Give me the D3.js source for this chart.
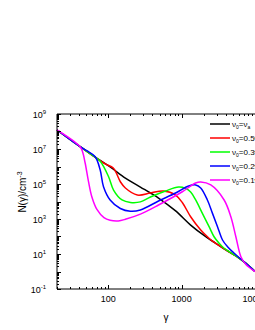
<!DOCTYPE html>
<html>
<head>
<meta charset="utf-8">
<script src="https://cdn.jsdelivr.net/npm/d3@7"></script>
<style>
  html, body { margin: 0; padding: 0; background: #fff; }
  svg { display: block; font-family: "Liberation Sans", Arial, sans-serif; }
</style>
</head>
<body>
<svg id="chart" width="255" height="330"></svg>
<script>
"use strict";

// === Data: [gamma, N(gamma)] ===
const curveVa = [[20,1.22e8],[41.3,1.35e7],[60.3,4.5e6],[106,9.4e5],[171,2.2e5],[274,6.7e4],
  [376,3.06e4],[484,1.58e4],[828,2.9e3],[1327,450],[2130,97],[2918,41],[4000,17],
  [5484,7.7],[7522,2.9],[10000,1.0]];
const curve05 = [[20,1.22e8],[41.3,1.35e7],[60.3,4.5e6],[90.9,1.4e6],[117,8.2e5],[146,1.35e5],
  [171,5.9e4],[249,2.35e4],[376,3.06e4],[566,4.0e4],[828,2.35e4],[1031,8.2e3],[1327,1.35e3],
  [1820,235],[2343,82],[2660,52],[2918,41],[4000,17],[5484,7.7],[7522,2.9],[10000,1.0]];
const curve03 = [[20,1.22e8],[41.3,1.35e7],[60.3,4.5e6],[77.6,2.0e6],[101,2.6e5],[118,4.5e4],
  [154,1.22e4],[200,8.8e3],[274,9.5e3],[376,1.8e4],[603,4.0e4],[910,6.7e4],[1133,5.6e4],
  [1327,3.5e4],[1553,1.22e4],[1918,2.1e3],[2366,363],[2767,97],[3243,41],[3757,22],
  [5484,7.7],[7522,2.9],[10000,1.0]];
const curve02 = [[20,1.22e8],[41.3,1.35e7],[51.5,7.7e6],[66.4,3.6e6],[77.6,6.3e5],[86.1,7.0e4],
  [106,1.22e4],[146,4.0e3],[200,2.8e3],[274,3.3e3],[484,1.07e4],[828,3.06e4],[1247,7.7e4],
  [1553,8.8e4],[1820,5.9e4],[2244,1.22e4],[2633,2.1e3],[3083,363],[3608,63],[4226,26],
  [5152,11.4],[7522,2.9],[10000,1.0]];
const curve01 = [[20,1.22e8],[41.3,1.35e7],[44.7,6.7e6],[48.4,1.58e6],[53.7,1.4e5],[59.8,1.8e4],
  [70,3.5e3],[87.3,1.2e3],[106,850],[137,780],[171,960],[274,1.9e3],[484,6.3e3],[1021,3.6e4],
  [1553,1.14e5],[1820,1.3e5],[2497,8.8e4],[3795,1.22e4],[4686,1.35e3],[5484,97],[6425,7.0],
  [7522,2.5],[10000,1.0]];

const seriesData = [curveVa, curve05, curve03, curve02, curve01];
const seriesColors = ["#000000", "#ff0000", "#00ff00", "#0000ff", "#ff00ff"];
const legendValues = ["ν", "0.5", "0.3", "0.2", "0.1"];

const xDomain = [20, 10000];
const yDomain = [0.1, 1e9];
const xTickLabels = [100, 1000, 10000];
const yTickExps = [-1, 1, 3, 5, 7, 9];

// === Layout ===
const svg = d3.select("#chart");
const plotL = 57, plotR = 255, plotT = 114, plotB = 289;

const x = d3.scaleLog().domain(xDomain).range([plotL, plotR]);
const y = d3.scaleLog().domain(yDomain).range([plotB, plotT]);

// === Curves ===
const line = d3.line()
  .x(d => x(d[0]))
  .y(d => y(d[1]))
  .curve(d3.curveCatmullRom.alpha(0.5));

const plot = svg.append("g");
seriesData.forEach((pts, i) => {
  plot.append("path")
    .attr("d", line(pts))
    .attr("fill", "none")
    .attr("stroke", seriesColors[i])
    .attr("stroke-width", 1.5);
});

// === Axes (ticks inward) ===
function minorValues(lo, hi) {
  const vals = [];
  for (let k = Math.floor(Math.log10(lo)); k <= Math.ceil(Math.log10(hi)); k++) {
    for (let m = 1; m <= 9; m++) {
      const v = m * Math.pow(10, k);
      if (v >= lo * 0.999 && v <= hi * 1.001) vals.push(v);
    }
  }
  return vals;
}

const xVals = minorValues(xDomain[0], xDomain[1]);
const yVals = minorValues(yDomain[0], yDomain[1]);
const isDecade = v => Math.abs(Math.log10(v) - Math.round(Math.log10(v))) < 1e-6;

const axes = svg.append("g").attr("stroke", "#000");

// frame lines
axes.append("line").attr("x1", plotL).attr("x2", plotR).attr("y1", plotB).attr("y2", plotB);
axes.append("line").attr("x1", plotL).attr("x2", plotR).attr("y1", plotT).attr("y2", plotT);
axes.append("line").attr("x1", plotL).attr("x2", plotL).attr("y1", plotT).attr("y2", plotB);

xVals.forEach(v => {
  const len = isDecade(v) ? 4 : 2;
  const px = Math.round(x(v)) + 0.5;
  axes.append("line").attr("x1", px).attr("x2", px)
    .attr("y1", plotB).attr("y2", plotB - len);
  axes.append("line").attr("x1", px).attr("x2", px)
    .attr("y1", plotT).attr("y2", plotT + len);
});
yVals.forEach(v => {
  const len = isDecade(v) ? 4 : 2;
  const py = Math.round(y(v)) + 0.5;
  axes.append("line").attr("x1", plotL).attr("x2", plotL + len)
    .attr("y1", py).attr("y2", py);
});

// x tick labels
svg.append("g").selectAll("text").data(xTickLabels).join("text")
  .attr("x", d => x(d))
  .attr("y", plotB + 13)
  .attr("text-anchor", "middle")
  .attr("font-size", 9)
  .text(d => d);

// y tick labels 10^n
const yLab = svg.append("g").selectAll("text").data(yTickExps).join("text")
  .attr("x", plotL - 11)
  .attr("y", d => y(Math.pow(10, d)) + 3.5)
  .attr("text-anchor", "end")
  .attr("font-size", 9);
yLab.append("tspan").text("10");
yLab.append("tspan").attr("font-size", 6).attr("dy", -4).text(d => d);

// axis titles
svg.append("text")
  .attr("transform", "translate(26,192) rotate(-90)")
  .attr("text-anchor", "middle")
  .attr("font-size", 10)
  .call(t => {
    t.append("tspan").text("N(γ)/cm");
    t.append("tspan").attr("font-size", 7).attr("dy", -4).text("-3");
  });
svg.append("text")
  .attr("x", 166).attr("y", 321)
  .attr("text-anchor", "middle")
  .attr("font-size", 10)
  .text("γ");

// === Legend ===
const legend = svg.append("g");
seriesColors.forEach((c, i) => {
  const ly = 124 + i * 14;
  legend.append("line")
    .attr("x1", 210).attr("x2", 230)
    .attr("y1", ly).attr("y2", ly)
    .attr("stroke", c).attr("stroke-width", 1.5);
  const t = legend.append("text")
    .attr("x", 232).attr("y", ly + 3)
    .attr("font-size", 8);
  t.append("tspan").text("ν");
  t.append("tspan").attr("font-size", 5).attr("dy", 2).text("0");
  t.append("tspan").attr("dy", -2).text("=" + legendValues[i]);
  if (i === 0) {
    t.append("tspan").attr("font-size", 5).attr("dy", 2).text("a");
  } else {
    t.append("tspan").text("ν");
    t.append("tspan").attr("font-size", 5).attr("dy", 2).text("a");
  }
});
</script>
</body>
</html>
